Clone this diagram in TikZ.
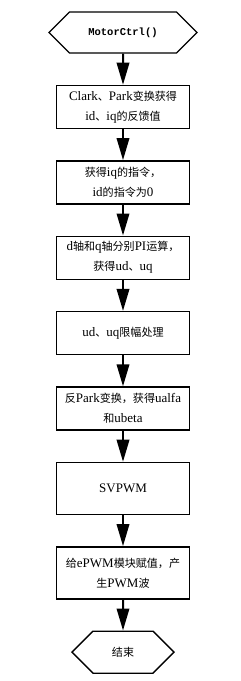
\documentclass[tikz,border=0pt]{standalone}
\usepackage{fontspec}
\setmainfont{Liberation Serif}
\newfontfamily\zh{Noto Sans CJK SC}[Scale=0.85]
\newfontfamily\mono{Liberation Mono}
\usetikzlibrary{positioning,arrows.meta,shapes.symbols}

\begin{document}
\begin{tikzpicture}[font=\fontsize{13}{20}\selectfont,node distance=31pt,line width=1.4pt]
  \tikzstyle{k}=[draw,minimum width=133pt,minimum height=43pt,inner sep=1pt,align=center]
  \tikzstyle{t}=[draw,signal,signal to=east and west,signal pointer angle=90,minimum height=41pt]
  \tikzstyle{a}=[line width=2pt,-{Triangle[width=12.5pt,length=22pt]}]
  \useasboundingbox (0,0) rectangle (241pt,-681pt);
  \node[t,minimum width=148pt] (s) at (123pt,-32.5pt) {\mono\bfseries\fontsize{10.5}{12}\selectfont MotorCtrl()};
  \node[k,below=of s] (fb) {Clark{\zh 、}Park{\zh 变换获得}\\id{\zh 、}iq{\zh 的反馈值}};
  \node[k,below=of fb] (ref) {{\zh 获得}iq{\zh 的指令，}\\id{\zh 的指令为}0};
  \node[k,below=of ref] (pi) {d{\zh 轴和}q{\zh 轴分别}PI{\zh 运算，}\\{\zh 获得}ud{\zh 、}uq};
  \node[k,below=of pi] (lim) {ud{\zh 、}uq{\zh 限幅处理}};
  \node[k,below=of lim] (ipk) {{\zh 反}Park{\zh 变换，获得}ualfa\\{\zh 和}ubeta};
  \node[k,below=of ipk,minimum height=52pt] (sv) {SVPWM};
  \node[k,below=of sv,minimum height=52pt] (pwm) {{\zh 给}ePWM{\zh 模块赋值，产}\\{\zh 生}PWM{\zh 波}};
  \node[t,below=of pwm,minimum width=102pt,minimum height=42pt] (e) {{\zh 结束}};
  \draw[a] (s)--(fb); \draw[a] (fb)--(ref); \draw[a] (ref)--(pi);
  \draw[a] (pi)--(lim); \draw[a] (lim)--(ipk); \draw[a] (ipk)--(sv);
  \draw[a] (sv)--(pwm); \draw[a] (pwm)--(e);
\end{tikzpicture}
\end{document}
